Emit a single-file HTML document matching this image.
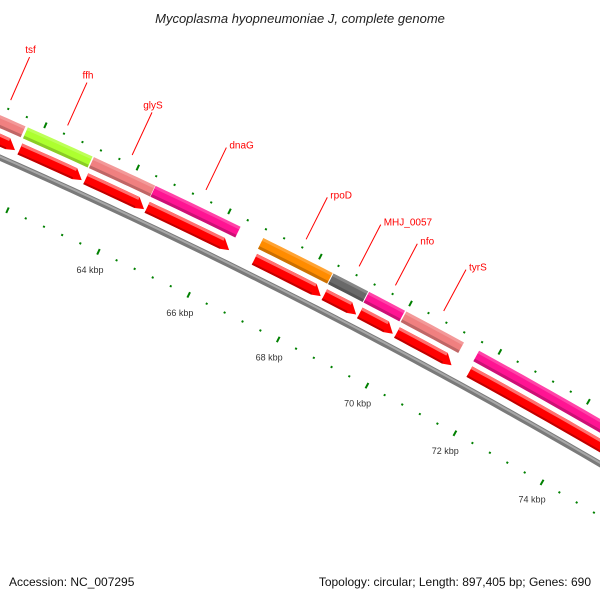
<!DOCTYPE html>
<html><head><meta charset="utf-8"><style>
html,body{margin:0;padding:0;background:#fff;overflow:hidden;}
svg{display:block;font-family:"Liberation Sans",sans-serif;}
</style></head><body>
<svg id="chart" width="600" height="600" viewBox="0 0 600 600">
<rect x="0" y="0" width="600" height="600" fill="#fff"/>
<g id="plot"></g>
<text x="300" y="23" text-anchor="middle" font-size="13" font-style="italic" fill="#222">Mycoplasma hyopneumoniae J, complete genome</text>
<text x="9" y="586" font-size="12" fill="#111">Accession: NC_007295</text>
<text x="591" y="586" text-anchor="end" font-size="12" fill="#111">Topology: circular; Length: 897,405 bp; Genes: 690</text>
</svg>
<script>
var geneNames = ["tsf","ffh","glyS","dnaG","rpoD","MHJ_0057","nfo","tyrS",""];
var geneStarts = [60700,61700,63130,64470,66830,68380,69170,70000,71630];
var geneEnds = [61650,63100,64460,66330,68360,69150,69970,71290,78000];
var geneColors = ["#f08080","#adff2f","#f08080","#ff1493","#ff8c00","#696969","#ff1493","#f08080","#ff1493"];
var tickStartKbp = 56;
var tickEndKbp = 80;
var majorStepKbp = 2;
var minorStepKbp = 0.4;

var NS = "http://www.w3.org/2000/svg";
var CX = -2400, CY = 5600;
function theta(bp){ return (-64.96 + (bp/1000 - 64) * 0.4854) * Math.PI / 180; }
function pt(bp, r){ var t = theta(bp); return [CX + r*Math.cos(t), CY + r*Math.sin(t)]; }
function P(p){ return p[0].toFixed(2)+","+p[1].toFixed(2); }
var plot = document.getElementById("plot");
function mk(tag, attrs){ var e = document.createElementNS(NS, tag); for (var k in attrs) e.setAttribute(k, attrs[k]); plot.appendChild(e); return e; }
function arcPts(s, e, r){ var n = Math.max(2, Math.ceil((e - s) / 200)); var a = []; for (var i = 0; i <= n; i++) a.push(pt(s + (e - s) * i / n, r)); return a; }
function band(s, e, r0, r1){
  var a = arcPts(s, e, r0), b = arcPts(s, e, r1).reverse();
  return "M" + a.concat(b).map(P).join("L") + "Z";
}

// backbone
var bb = mk("path", {d: band(50000, 85000, 5945, 5951), fill: "#7a7a7a"});


var bb2 = mk("path", {d: band(50000, 85000, 5948, 5950), fill: "#a8a8a8"});



// ticks
function ticks(rBase, withLabels){
  var n = Math.round((tickEndKbp - tickStartKbp) / minorStepKbp);
  for (var i = 0; i <= n; i++){
    var kbp = tickStartKbp + i * minorStepKbp;
    var bp = kbp * 1000;
    var major = Math.abs(kbp/majorStepKbp - Math.round(kbp/majorStepKbp)) < 1e-6;
    var len = major ? 6 : 2;
    var a = pt(bp, rBase - len/2), b = pt(bp, rBase + len/2);
    var l = mk("line", {x1:a[0], y1:a[1], x2:b[0], y2:b[1], stroke:"#008000", "stroke-width":2});
    
    
    if (major && withLabels){
      var c = pt(bp, rBase - 20);
      if (c[0] > 20 && c[0] < 580 && c[1] < 570){
        var t = mk("text", {x:c[0], y:c[1]+3, "text-anchor":"middle", "font-size":"9", fill:"#333"});
        t.textContent = Math.round(kbp) + " kbp";
        
        
      }
    }
  }
}
ticks(5903, true);
ticks(5996, false);

// genes
for (var i = 0; i < geneStarts.length; i++){
  var s = geneStarts[i], e = geneEnds[i];
  var bar = mk("path", {d: band(s, e, 5975, 5987), fill: geneColors[i]});
  
  
  var sh = mk("path", {d: band(s, e, 5975, 5978), fill: "#000", "fill-opacity":"0.2"});
  
  
  var hi = mk("path", {d: band(s, e, 5984, 5987), fill: "#fff", "fill-opacity":"0.2"});
  
  
  var h = 180, r0 = 5958, r1 = 5970, rm = 5961;
  var s2 = s + 30;
  var lower = arcPts(s2, e - h, r0), upper = arcPts(s2, e - h, r1).reverse();
  var d = "M" + lower.map(P).join("L") + "L" + P(pt(e, rm)) + "L" + upper.map(P).join("L") + "Z";
  var ar = mk("path", {d: d, fill: "#ff0000"});
  
  
  var ah = mk("path", {d: band(s2, e-h, 5967, 5970), fill: "#ff7070"});
  
  
  var ad = mk("path", {d: band(s2, e-h, 5958, 5960), fill: "#c00000"});
  
  
  if (geneNames[i]){
    var mid = (s + e) / 2;
    var p0 = pt(mid, 6005), p1 = pt(mid, 6052);
    var ln = mk("line", {x1:p0[0], y1:p0[1], x2:p1[0], y2:p1[1], stroke:"#ff0000", "stroke-width":1});
    
    
    var tx;
    if (i < 3) tx = mk("text", {x:p1[0]+1, y:p1[1]-4, "text-anchor":"middle", "font-size":"10", fill:"#ff0000"});
    else tx = mk("text", {x:p1[0]+3, y:p1[1]+1, "text-anchor":"start", "font-size":"10", fill:"#ff0000"});
    tx.textContent = geneNames[i];
    
    
  }
}
</script>
</body></html>
